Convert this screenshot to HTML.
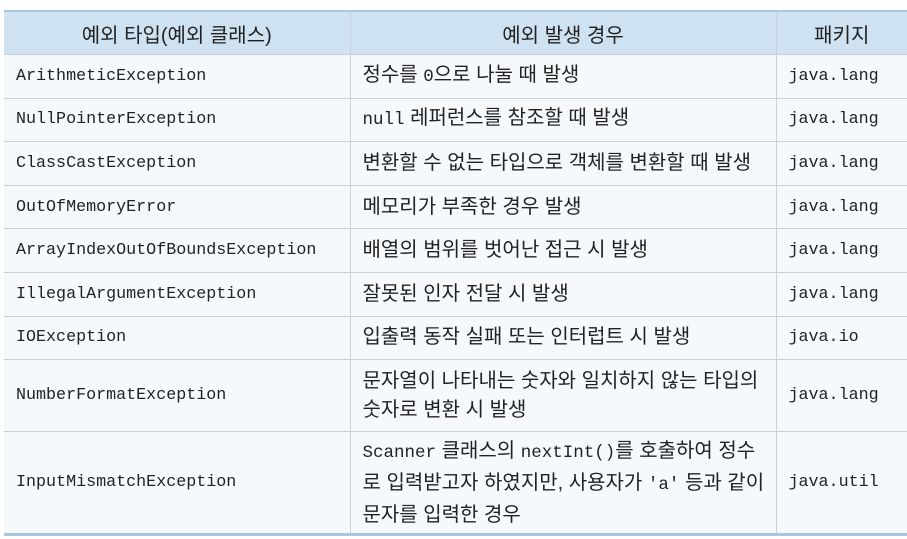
<!DOCTYPE html>
<html><head><meta charset="utf-8">
<style>
html,body{margin:0;padding:0;background:#fff;width:907px;height:539px;overflow:hidden}
table{position:absolute;left:4px;top:10px;width:903px;border-collapse:collapse;table-layout:fixed;
 border-top:2px solid #a9c6e0;border-bottom:3px solid #a9c6e0;background:#f6f9fc}
th{background:#cfe2f1;font-family:"Liberation Sans","Noto Sans CJK KR",sans-serif;font-weight:normal;font-size:20px;color:#222;height:42px;padding:0;border-left:1px solid #c8d2dc;border-bottom:1px solid #c8d2dc}
td{font-family:"Liberation Sans","Noto Sans CJK KR",sans-serif;font-size:20px;color:#222;padding:0 0 0 12px;border-left:1px solid #c8d2dc;border-bottom:1px solid #c8d2dc;line-height:29px;vertical-align:middle}
th:first-child,td:first-child{border-left:none}
td.m{font-family:"Liberation Mono","Noto Sans CJK KR",monospace;font-size:16.7px}
td.d code{font-family:"Liberation Mono",monospace;font-size:17.5px}
tr.r td{height:42.6px}
</style></head><body>
<table>
<colgroup><col style="width:346px"><col style="width:426px"><col style="width:131px"></colgroup>
<tr>
<th>예외 타입(예외 클래스)</th>
<th>예외 발생 경우</th>
<th>패키지</th></tr>
<tr class="r"><td class="m">ArithmeticException</td><td class="d">정수를 <code>0</code>으로 나눌 때 발생</td><td class="m">java.lang</td></tr>
<tr class="r"><td class="m">NullPointerException</td><td class="d"><code>null</code> 레퍼런스를 참조할 때 발생</td><td class="m">java.lang</td></tr>
<tr class="r"><td class="m">ClassCastException</td><td class="d">변환할 수 없는 타입으로 객체를 변환할 때 발생</td><td class="m">java.lang</td></tr>
<tr class="r"><td class="m">OutOfMemoryError</td><td class="d">메모리가 부족한 경우 발생</td><td class="m">java.lang</td></tr>
<tr class="r"><td class="m">ArrayIndexOutOfBoundsException</td><td class="d">배열의 범위를 벗어난 접근 시 발생</td><td class="m">java.lang</td></tr>
<tr class="r"><td class="m">IllegalArgumentException</td><td class="d">잘못된 인자 전달 시 발생</td><td class="m">java.lang</td></tr>
<tr class="r"><td class="m">IOException</td><td class="d">입출력 동작 실패 또는 인터럽트 시 발생</td><td class="m">java.io</td></tr>
<tr><td class="m" style="height:71px">NumberFormatException</td><td class="d">문자열이 나타내는 숫자와 일치하지 않는 타입의<br>숫자로 변환 시 발생</td><td class="m">java.lang</td></tr>
<tr><td class="m" style="height:101px">InputMismatchException</td><td class="d" style="line-height:30px"><code>Scanner</code> 클래스의 <code>nextInt()</code>를 호출하여 정수<br>로 입력받고자 하였지만, 사용자가 <code>'a'</code> 등과 같이<br>문자를 입력한 경우</td><td class="m">java.util</td></tr>
</table>
</body></html>
